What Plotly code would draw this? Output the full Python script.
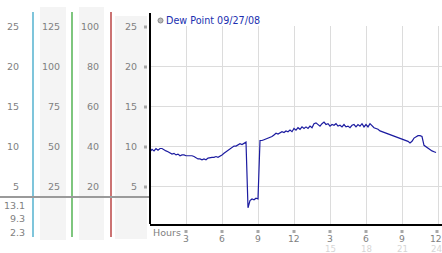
import plotly.graph_objects as go

# ---- data (10-minute readings, hours 0..23.83) ----
dew_point = [
    9.4, 9.7, 9.5, 9.8, 9.6, 9.8,
    9.8, 9.6, 9.5, 9.4, 9.3, 9.1,
    9.2, 9.0, 9.1, 8.9, 9.0, 9.0,
    8.9, 8.9, 8.9, 8.9, 8.8, 8.6,
    8.5, 8.5, 8.4, 8.5, 8.4, 8.6,
    8.7, 8.7, 8.7, 8.8, 8.7, 8.8,
    9.0, 9.2, 9.4, 9.5, 9.7, 9.9,
    10.1, 10.1, 10.3, 10.4, 10.3, 10.5,
    10.6, 2.4, 3.3, 3.5, 3.4, 3.6,
    3.5, 10.8, 10.8, 10.9, 11.0, 11.0,
    11.2, 11.3, 11.5, 11.7, 11.6, 11.7,
    11.9, 11.8, 12.0, 11.9, 12.1, 11.9,
    12.3, 12.1, 12.4, 12.2, 12.5, 12.3,
    12.5, 12.3, 12.6, 12.4, 12.9, 13.0,
    12.8, 12.6, 12.9, 13.1, 12.8, 12.9,
    12.6, 12.8, 12.7, 12.9, 12.6, 12.7,
    12.5, 12.8, 12.5, 12.6, 12.4, 12.7,
    12.8, 12.5, 12.8, 12.6, 12.9, 12.5,
    12.8, 12.5, 12.9, 12.6, 12.4, 12.3,
    12.2, 12.0, 11.9, 11.8, 11.7, 11.7,
    11.6, 11.5, 11.4, 11.3, 11.2, 11.1,
    11.0, 10.9, 10.8, 10.7, 10.5, 10.7,
    11.1, 11.3, 11.4, 11.4, 11.3, 10.2,
    10.0, 9.8, 9.7, 9.5, 9.4, 9.3,
]
hours = [i / 6 for i in range(len(dew_point))]

hour_ticks = [3, 6, 9, 12, 15, 18, 21, 24]
hour_labels = ["3", "6", "9", "12", "3", "6", "9", "12"]
hour_labels_24 = ["", "", "", "", "15", "18", "21", "24"]

y_ticks = [5, 10, 15, 20, 25]
col1_labels = ["5", "10", "15", "20", "25"]
col2_labels = ["25", "50", "75", "100", "125"]
col3_labels = ["20", "40", "60", "80", "100"]
col4_labels = ["5", "10", "15", "20", "25"]
stats_labels = ["13.1", "9.3", "2.3"]
legend_text = "Dew Point 09/27/08"

# ---- geometry helpers ----
W, H = 442, 253
L, R, T, B = 150, 0, 26, 29
PW = W - L - R
PH = H - T - B


def px(x):
    return (x - L) / PW


def py(y):
    return (H - B - y) / PH


def ypix(v):
    return 227 - 8 * v


FONT = "DejaVu Sans"
GRAY = "#808080"
MARK = "#a8a8a8"

fig = go.Figure()
fig.add_trace(go.Scatter(x=hours, y=dew_point, mode="lines",
                         line=dict(color="#1c1ca0", width=1.2),
                         hoverinfo="skip", showlegend=False))

shapes = []
# gray column backgrounds
for x0, x1, y0, y1 in [(40, 66, 7, 240), (79, 104, 7, 240), (115, 147, 16, 239)]:
    shapes.append(dict(type="rect", xref="paper", yref="paper",
                       x0=px(x0), x1=px(x1), y0=py(y1), y1=py(y0),
                       fillcolor="#f4f4f4", line=dict(width=0), layer="below"))
# colored separator lines
for x, c in [(33, "#3aa6c8"), (72, "#3aa83a"), (111, "#b02828")]:
    shapes.append(dict(type="line", xref="paper", yref="paper",
                       x0=px(x), x1=px(x), y0=py(237), y1=py(12),
                       line=dict(color=c, width=1.3)))
# horizontal gray rule
shapes.append(dict(type="line", xref="paper", yref="paper",
                   x0=px(0), x1=px(149), y0=py(197), y1=py(197),
                   line=dict(color="#9a9a9a", width=2)))
# left axis extension above plot
shapes.append(dict(type="line", xref="paper", yref="paper",
                   x0=px(150), x1=px(150), y0=py(224), y1=py(13),
                   line=dict(color="black", width=2)))
# legend marker
shapes.append(dict(type="circle", xref="paper", yref="paper",
                   x0=px(158), x1=px(163), y0=py(23), y1=py(18),
                   fillcolor="#bbbbbb", line=dict(color="#888888", width=1)))
# small tick marks
for h in hour_ticks:
    xx = min(150 + 12 * h, 437)
    shapes.append(dict(type="line", xref="paper", yref="paper",
                       x0=px(xx), x1=px(xx), y0=py(233), y1=py(228),
                       line=dict(color=MARK, width=3, dash="dot")))
for v in y_ticks:
    yy = ypix(v)
    shapes.append(dict(type="line", xref="paper", yref="paper",
                       x0=px(144), x1=px(148.5), y0=py(yy), y1=py(yy),
                       line=dict(color=MARK, width=3, dash="dot")))

ann = []


def text(x, y, s, anchor="right", color=GRAY, size=9.5):
    ann.append(dict(xref="paper", yref="paper", x=px(x), y=py(y), text=s,
                    showarrow=False, xanchor=anchor, yanchor="middle",
                    font=dict(family=FONT, size=size, color=color), borderpad=0))


for v, a, b, c, d in zip(y_ticks, col1_labels, col2_labels, col3_labels, col4_labels):
    yy = ypix(v) - 0.5
    text(20, yy, a)
    text(61, yy, b)
    text(100, yy, c)
    text(138, yy, d)

for s, yy in zip(stats_labels, [205, 218, 232]):
    text(26.5, yy, s)

text(152, 232, "Hours", anchor="left")
for h, l1, l2 in zip(hour_ticks, hour_labels, hour_labels_24):
    xx = min(150 + 12 * h, 436)
    text(xx, 238.5, l1, anchor="center", size=9.2)
    if l2:
        text(xx, 248.5, l2, anchor="center", color="#d6d6d6", size=8.6)

text(165, 20, legend_text, anchor="left", color="#2030b0", size=9.6)

fig.update_layout(
    width=W, height=H,
    margin=dict(l=L, r=R, t=T, b=B, pad=0),
    paper_bgcolor="white", plot_bgcolor="white",
    shapes=shapes, annotations=ann, showlegend=False,
    xaxis=dict(range=[0, 24.333], tickvals=hour_ticks, showticklabels=False,
               showgrid=True, gridcolor="#dcdcdc", gridwidth=1, zeroline=False,
               showline=True, linecolor="black", linewidth=2, ticks=""),
    yaxis=dict(range=[0.375, 25.1], tickvals=y_ticks, showticklabels=False,
               showgrid=True, gridcolor="#dcdcdc", gridwidth=1, zeroline=False,
               showline=False, ticks=""),
)

fig.write_html("out.html")
